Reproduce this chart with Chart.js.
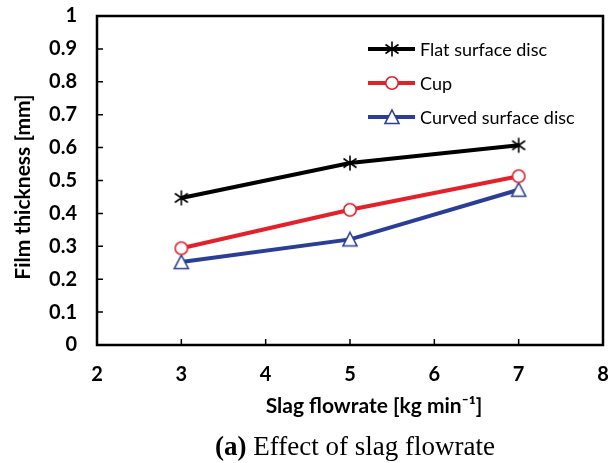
<!DOCTYPE html>
<html lang="en">
<head>
    <meta charset="UTF-8">
    <title>Effect of slag flowrate</title>
    <script src="https://cdn.jsdelivr.net/npm/chart.js"></script>
    <style>
        body { margin: 0; background: #fff; }
        #wrap { position: relative; width: 611px; height: 463px; }
        #film-chart { position: absolute; left: 0; top: 0; }
        #caption {
            position: absolute; left: 0; top: 431px; width: 710px;
            text-align: center;
            font-family: "Liberation Serif", "Times New Roman", serif; font-size: 27px; color: #000;
        }
    </style>
</head>
<body>
    <div id="wrap">
        <canvas id="film-chart" width="611" height="463"></canvas>
        <div id="caption"><b>(a)</b> Effect of slag flowrate</div>
    </div>

    <script>
        const flowrates = [3, 5, 7];
        const flatDisc = [0.447, 0.553, 0.607];
        const cup = [0.294, 0.411, 0.513];
        const curvedDisc = [0.252, 0.321, 0.472];
        const xTicks = [2, 3, 4, 5, 6, 7, 8];
        const yTicks = [0, 0.1, 0.2, 0.3, 0.4, 0.5, 0.6, 0.7, 0.8, 0.9, 1];
        const xTitle = 'Slag flowrate [kg min\u207B\u00B9]';
        const yTitle = 'Film thickness [mm]';

        // marker pictures, drawn once and reused by points and legend
        function makeMarker(kind, color) {
            const c = document.createElement('canvas');
            c.width = 18; c.height = 18;
            const g = c.getContext('2d');
            g.strokeStyle = color;
            g.fillStyle = '#fff';
            g.lineWidth = 1.6;
            if (kind === 'star') {
                g.beginPath();
                g.moveTo(9, 1.5); g.lineTo(9, 16.5);
                g.moveTo(2.5, 4.5); g.lineTo(15.5, 13.5);
                g.moveTo(15.5, 4.5); g.lineTo(2.5, 13.5);
                g.stroke();
            } else if (kind === 'circle') {
                g.beginPath();
                g.arc(9, 9, 6.2, 0, Math.PI * 2);
                g.fill(); g.stroke();
            } else {
                g.beginPath();
                g.moveTo(9, 2); g.lineTo(16, 15.5); g.lineTo(2, 15.5); g.closePath();
                g.fill(); g.stroke();
            }
            return c;
        }

        const series = [
            { label: 'Flat surface disc', data: flatDisc, color: '#000000', marker: makeMarker('star', '#000000') },
            { label: 'Cup', data: cup, color: '#e3212b', marker: makeMarker('circle', '#e3212b') },
            { label: 'Curved surface disc', data: curvedDisc, color: '#2b3e96', marker: makeMarker('tri', '#2b3e96') }
        ];

        const boldFont = 'bold 21px Lato, "Open Sans", sans-serif';

        const frame = {
            id: 'frame',
            afterDraw(chart) {
                const { ctx, chartArea: a, scales } = chart;
                ctx.save();
                ctx.strokeStyle = '#000';
                ctx.lineWidth = 2.5;
                ctx.strokeRect(a.left, a.top, a.right - a.left, a.bottom - a.top);
                ctx.lineWidth = 1.5;
                ctx.beginPath();
                xTicks.forEach(v => {
                    const x = scales.x.getPixelForValue(v);
                    ctx.moveTo(x, a.bottom); ctx.lineTo(x, a.bottom - 6);
                });
                yTicks.forEach(v => {
                    const y = scales.y.getPixelForValue(v);
                    ctx.moveTo(a.left, y); ctx.lineTo(a.left + 6, y);
                });
                ctx.stroke();

                // axis titles
                ctx.fillStyle = '#000';
                ctx.font = boldFont;
                ctx.textAlign = 'center';
                ctx.textBaseline = 'middle';
                ctx.fillText(xTitle, 374, 406);
                ctx.save();
                ctx.translate(23, 187);
                ctx.rotate(-Math.PI / 2);
                ctx.fillText(yTitle, 0, 0);
                ctx.restore();

                // legend inside plot area
                ctx.font = '18px Lato, "Open Sans", sans-serif';
                ctx.textAlign = 'left';
                series.forEach((s, i) => {
                    const y = 49 + i * 34;
                    ctx.strokeStyle = s.color;
                    ctx.lineWidth = 4;
                    ctx.beginPath();
                    ctx.moveTo(368, y); ctx.lineTo(415, y);
                    ctx.stroke();
                    ctx.drawImage(s.marker, 392 - 9, y - 9);
                    ctx.fillText(s.label, 420, y + 1);
                });
                ctx.restore();
            }
        };

        const tickFont = { family: 'Lato, "Open Sans", sans-serif', size: 20, weight: 'bold' };

        new Chart(document.getElementById('film-chart').getContext('2d'), {
            type: 'line',
            data: {
                datasets: series.map(s => ({
                    label: s.label,
                    data: flowrates.map((x, i) => ({ x: x, y: s.data[i] })),
                    borderColor: s.color,
                    borderWidth: 4,
                    pointStyle: s.marker,
                    pointBackgroundColor: '#fff',
                    pointBorderColor: s.color,
                    tension: 0
                }))
            },
            options: {
                responsive: false,
                animation: false,
                layout: { padding: { left: 0, right: 8, top: 16, bottom: 0 } },
                plugins: { legend: { display: false }, tooltip: { enabled: false } },
                scales: {
                    x: {
                        type: 'linear', min: 2, max: 8,
                        afterBuildTicks: s => { s.ticks = xTicks.map(v => ({ value: v })); },
                        afterFit: s => { s.height = 118; s.paddingLeft = 0; s.paddingRight = 0; },
                        grid: { display: false, drawTicks: false },
                        border: { display: false },
                        ticks: { color: '#000', font: tickFont, padding: 18, maxRotation: 0, callback: v => String(v) }
                    },
                    y: {
                        min: 0, max: 1,
                        afterBuildTicks: s => { s.ticks = yTicks.map(v => ({ value: v })); },
                        afterFit: s => { s.width = 97; s.paddingTop = 0; s.paddingBottom = 0; },
                        grid: { display: false, drawTicks: false },
                        border: { display: false },
                        ticks: { color: '#000', font: tickFont, padding: 20, callback: v => String(v) }
                    }
                }
            },
            plugins: [frame]
        });
    </script>
</body>
</html>
